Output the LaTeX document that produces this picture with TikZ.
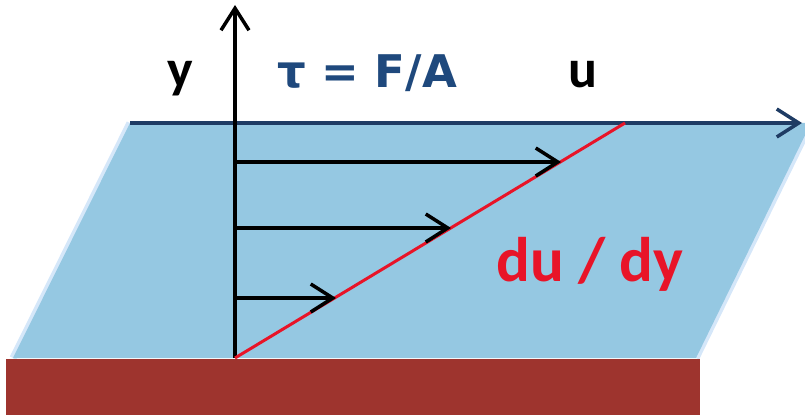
\documentclass[tikz,border=0pt]{standalone}
\usepackage{fontspec}
\setmainfont{Carlito}
\newfontfamily\widefont{DejaVu Sans}
\usetikzlibrary{arrows.meta}
\definecolor{fluid}{RGB}{149,200,226}
\definecolor{halo}{RGB}{185,215,245}
\definecolor{plate}{RGB}{158,52,46}
\definecolor{axisblue}{RGB}{31,60,100}
\definecolor{textblue}{RGB}{31,73,125}
\definecolor{slope}{RGB}{232,20,40}
\begin{document}
\begin{tikzpicture}[
        x=1pt, y=-1pt,
        barb/.style={-{Straight Barb[length=22pt,width=28pt]}},
        vel/.style={barb, line width=3.5pt, black},
        lbl/.style={font=\bfseries\fontsize{54}{54}\selectfont, anchor=base, inner sep=0pt}
    ]
        \useasboundingbox (0,0) rectangle (805,417);

        % fluid layer and wall
        \begin{scope}
            \clip (0,0) rectangle (805,417);
            \draw[halo, line width=7pt, opacity=0.6] (130,123) -- (13,358);
            \draw[halo, line width=7pt, opacity=0.6] (811,123) -- (696,358);
            \fill[fluid] (130,123) -- (811,123) -- (696,358) -- (13,358) -- cycle;
        \end{scope}
        \fill[plate] (6,359) rectangle (700,415);

        \coordinate (O) at (235,358);
        \coordinate (ytip) at (235,5);
        \coordinate (xstart) at (130,123);
        \coordinate (xtip) at (802,123);
        \coordinate (top) at (625,123);

        % axes and gradient line
        \draw[barb, line width=3.5pt, axisblue] (xstart) -- (xtip);
        \draw[barb, line width=3.5pt, black] (O) -- (ytip);
        \draw[slope, line width=3pt] (O) -- (top);

        % velocity profile
        \coordinate (v1) at (235,162);
        \coordinate (w1) at (561,162);
        \coordinate (v2) at (235,228);
        \coordinate (w2) at (451,228);
        \coordinate (v3) at (235,298);
        \coordinate (w3) at (336,298);
        \draw[vel] (v1) -- (w1);
        \draw[vel] (v2) -- (w2);
        \draw[vel] (v3) -- (w3);

        \node[lbl] (ylab) at (180,88) {y};
        \node[lbl, textblue, font=\widefont\bfseries\fontsize{45}{45}\selectfont] (tau) at (367,88) {τ = F/A};
        \node[lbl] (ulab) at (583,88) {u};
        \node[lbl, slope, font=\bfseries\fontsize{63}{63}\selectfont] (grad) at (590,281) {du / dy};
    \end{tikzpicture}
\end{document}
